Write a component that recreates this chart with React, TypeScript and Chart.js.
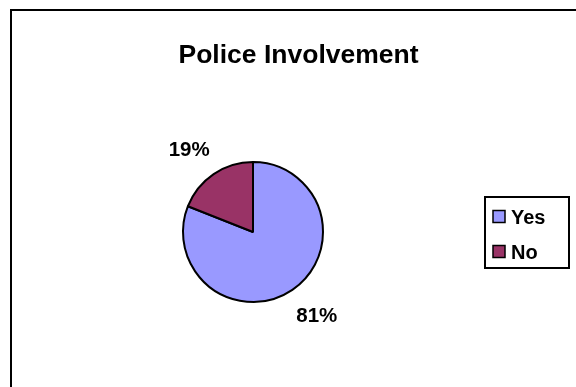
import React, { useEffect, useRef } from "react";
import { Chart, registerables } from "chart.js";

Chart.register(...registerables);

const TITLE = "Police Involvement";
const categories = ["Yes", "No"];
const values = [81, 19];
const colors = ["#9999FF", "#993366"];
const FONT = '"Liberation Sans", Arial, sans-serif';

const decorPlugin = {
  id: "decor",
  beforeDraw(chart: any) {
    const ctx = chart.ctx;
    ctx.save();
    ctx.fillStyle = "#ffffff";
    ctx.fillRect(0, 0, chart.width, chart.height);
    // frame (top and left visible)
    ctx.strokeStyle = "#000000";
    ctx.lineWidth = 2;
    ctx.beginPath();
    ctx.moveTo(11, chart.height + 2);
    ctx.lineTo(11, 10);
    ctx.lineTo(chart.width + 2, 10);
    ctx.stroke();
    // title
    ctx.fillStyle = "#000000";
    ctx.font = `bold 26.5px ${FONT}`;
    ctx.textAlign = "center";
    ctx.textBaseline = "alphabetic";
    ctx.fillText(TITLE, 298.5, 62.5);
    ctx.restore();
  },
  afterDatasetsDraw(chart: any) {
    const ctx = chart.ctx;
    const meta = chart.getDatasetMeta(0);
    const data = chart.data.datasets[0].data as number[];
    const total = data.reduce((a, b) => a + b, 0);
    ctx.save();
    ctx.fillStyle = "#000000";
    const size = 20.5;
    ctx.font = `bold ${size}px ${FONT}`;
    ctx.textAlign = "center";
    ctx.textBaseline = "alphabetic";
    meta.data.forEach((arc: any, i: number) => {
      const { x, y, startAngle, endAngle, outerRadius } = arc.getProps(
        ["x", "y", "startAngle", "endAngle", "outerRadius"],
        true
      );
      const mid = (startAngle + endAngle) / 2;
      const dx = Math.cos(mid);
      const dy = Math.sin(mid);
      const k = outerRadius + 23;
      const text = Math.round((data[i] / total) * 100) + "%";
      const hw = ctx.measureText(text).width / 2;
      const hh = 7.5;
      const cx = x + k * dx + hw * dx;
      const cy = y + k * dy + hh * dy;
      ctx.fillText(text, cx, cy + 0.358 * size);
    });
    // legend
    const bx = 485, by = 197, bw = 84, bh = 71;
    ctx.fillStyle = "#ffffff";
    ctx.fillRect(bx, by, bw, bh);
    ctx.strokeStyle = "#000000";
    ctx.lineWidth = 2;
    ctx.strokeRect(bx, by, bw, bh);
    const rows = [216.5, 251.5];
    ctx.font = `bold 20px ${FONT}`;
    ctx.textAlign = "left";
    chart.data.labels.forEach((lab: string, i: number) => {
      const ry = rows[i];
      ctx.fillStyle = chart.data.datasets[0].backgroundColor[i];
      ctx.fillRect(493, ry - 6, 12, 12);
      ctx.lineWidth = 1.5;
      ctx.strokeStyle = "#000000";
      ctx.strokeRect(493, ry - 6, 12, 12);
      ctx.fillStyle = "#000000";
      ctx.fillText(lab, 511, ry + 7);
    });
    ctx.restore();
  },
};

export default function App() {
  const ref = useRef<HTMLCanvasElement>(null);
  useEffect(() => {
    if (!ref.current) return;
    const chart = new Chart(ref.current, {
      type: "pie",
      data: {
        labels: categories,
        datasets: [
          {
            data: values,
            backgroundColor: colors,
            borderColor: "#000000",
            borderWidth: 2,
            radius: 70,
          } as any,
        ],
      },
      options: {
        responsive: false,
        animation: false,
        events: [],
        layout: { padding: { left: 100, right: 170, top: 120, bottom: 43 } },
        plugins: {
          legend: { display: false },
          title: { display: false },
          tooltip: { enabled: false },
        },
      },
      plugins: [decorPlugin],
    });
    return () => chart.destroy();
  }, []);
  return (
    <div style={{ position: "absolute", left: 0, top: 0, width: 576, height: 387 }}>
      <canvas ref={ref} width={576} height={387} style={{ display: "block" }} />
    </div>
  );
}
